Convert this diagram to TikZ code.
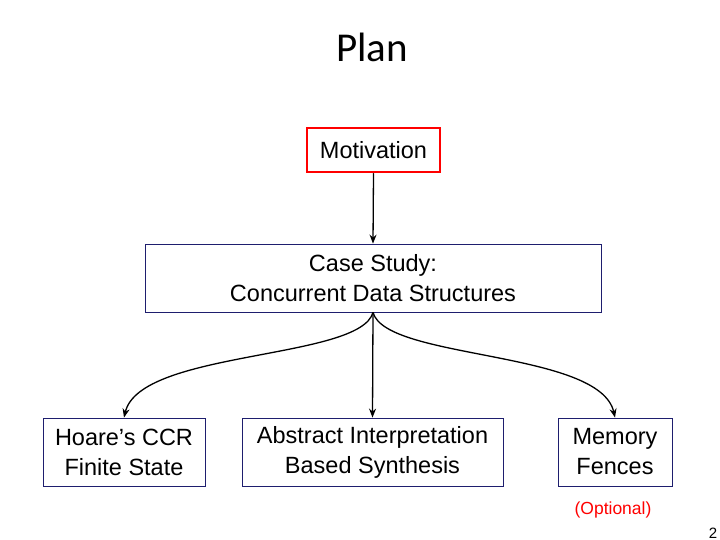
\documentclass[tikz,border=0pt]{standalone}
\usepackage{fontspec}
\setmainfont{Liberation Sans}
\newfontfamily\titlefont{Carlito}
\usetikzlibrary{arrows.meta}
\definecolor{navy}{RGB}{30,30,110}
\begin{document}
\begin{tikzpicture}[x=1pt,y=-1pt,
  box/.style={draw=navy,line width=0.8pt,inner sep=0pt,align=center,font=\fontsize{23.5}{30}\selectfont},
  conn/.style={line width=1.3pt,-{Stealth[length=9pt,width=7pt]}}]
\useasboundingbox[fill=white] (0,0) rectangle (720,540);
\node[font=\titlefont\fontsize{41}{44}\selectfont] (title) at (372,47) {Plan};
\node[box,draw=red,line width=2.5pt,minimum width=133pt,minimum height=44pt] (mot) at (373.5,150) {Motivation};
\node[box,minimum width=456pt,minimum height=68pt] (cs) at (373,278) {Case Study:\\Concurrent Data Structures};
\node[box,minimum width=162pt,minimum height=68pt] (h) at (124,452) {Hoare’s CCR\\Finite State};
\node[box,minimum width=261pt,minimum height=68pt] (a) at (372.5,452) {Abstract Interpretation\\Based Synthesis};
\node[box,minimum width=114pt,minimum height=68pt] (m) at (615,452) {Memory\\Fences};
\node[text=red,font=\fontsize{17.5}{20}\selectfont] (opt) at (613,510) {(Optional)};
\node[font=\fontsize{15}{16}\selectfont] (pg) at (713,533) {2};
\draw[conn] (mot.south) -- (cs.north);
\draw[conn] (cs.south) -- (a.north);
\draw[conn] (cs.south) .. controls (360,360) and (140,350) .. (h.north);
\draw[conn] (cs.south) .. controls (386,360) and (600,350) .. (m.north);
\end{tikzpicture}
\end{document}
